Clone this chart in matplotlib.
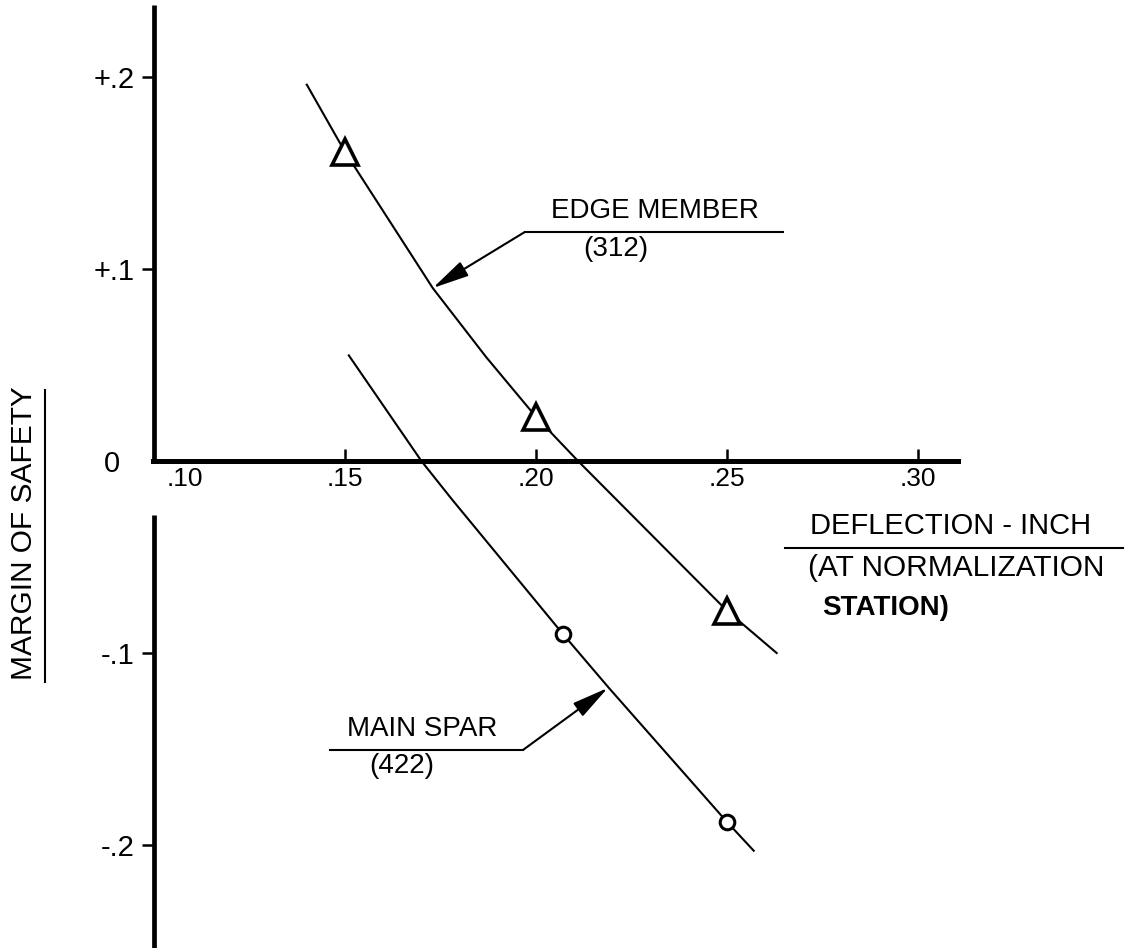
import matplotlib
matplotlib.use('Agg')
import matplotlib.pyplot as plt
from matplotlib.transforms import ScaledTranslation

# ---------------- data ----------------
x_ticks = [0.10, 0.15, 0.20, 0.25, 0.30]
x_tick_labels = ['.10', '.15', '.20', '.25', '.30']
y_ticks = [0.2, 0.1, 0.0, -0.1, -0.2]
y_tick_labels = ['+.2', '+.1', '0', '-.1', '-.2']

# measured points
edge_pts_x = [0.150, 0.200, 0.250]
edge_pts_y = [0.161, 0.023, -0.078]
spar_pts_x = [0.207, 0.250]
spar_pts_y = [-0.090, -0.188]

# faired curves
edge_curve_x = [0.140, 0.150, 0.173, 0.187, 0.200, 0.211, 0.250, 0.263]
edge_curve_y = [0.196, 0.161, 0.090, 0.054, 0.023, 0.000, -0.078, -0.100]
spar_curve_x = [0.151, 0.170, 0.178, 0.207, 0.219, 0.250, 0.257]
spar_curve_y = [0.055, 0.000, -0.020, -0.090, -0.118, -0.188, -0.203]

FONT = ['Liberation Sans', 'DejaVu Sans']
plt.rcParams['font.family'] = FONT

fig = plt.figure(figsize=(11.32, 9.48), dpi=100)
ax = fig.add_axes([0, 0, 1, 1])
ax.set_xlim(0.05969, 0.35602)
ax.set_ylim(-0.25365, 0.24010)
ax.set_facecolor('white')

for s in ['top', 'right', 'left']:
    ax.spines[s].set_visible(False)
ax.spines['bottom'].set_position(('data', 0.0))
ax.spines['bottom'].set_bounds(0.0997, 0.3105)
ax.spines['bottom'].set_linewidth(3.6)
ax.spines['left'].set_position(('data', 0.10))

# broken vertical axis
ax.plot([0.10, 0.10], [0.2375, 0.0], color='black', lw=3.4, solid_capstyle='butt', zorder=3)
ax.plot([0.10, 0.10], [-0.0281, -0.26], color='black', lw=3.4, solid_capstyle='butt', zorder=3)

# ticks
ax.set_xticks(x_ticks)
ax.set_xticklabels(x_tick_labels, fontsize=19)
ax.set_yticks(y_ticks)
ax.set_yticklabels(y_tick_labels, fontsize=21)
ax.tick_params(axis='x', direction='in', length=8.5, width=1.8, pad=4)
ax.tick_params(axis='y', direction='out', length=9, width=1.8, pad=5)

xt = ax.xaxis.get_major_ticks()
xt[0].tick1line.set_visible(False)
xt[0].label1.set_transform(xt[0].label1.get_transform() +
                           ScaledTranslation(0.31, 0, fig.dpi_scale_trans))
yt = ax.yaxis.get_major_ticks()
yt[2].tick1line.set_visible(False)
yt[2].label1.set_transform(yt[2].label1.get_transform() +
                           ScaledTranslation(-0.15, 0, fig.dpi_scale_trans))

# curves
ax.plot(edge_curve_x, edge_curve_y, color='black', lw=1.5, zorder=4,
        solid_joinstyle='round')
ax.plot(spar_curve_x, spar_curve_y, color='black', lw=1.5, zorder=4,
        solid_joinstyle='round')

# markers
ax.plot(edge_pts_x, edge_pts_y, linestyle='none', marker='^', markersize=19,
        markerfacecolor='white', markeredgecolor='black', markeredgewidth=2.6, zorder=6)
ax.plot(spar_pts_x, spar_pts_y, linestyle='none', marker='o', markersize=10.5,
        markerfacecolor='white', markeredgecolor='black', markeredgewidth=2.2, zorder=6)

arrow_kw = dict(arrowstyle='-|>,head_length=0.9,head_width=0.2', color='black',
                lw=1.5, shrinkA=0, shrinkB=0, mutation_scale=25)

# EDGE MEMBER callout
ax.plot([0.1971, 0.2647], [0.1193, 0.1193], color='black', lw=1.5)
ax.annotate('', xy=(0.1730, 0.0901), xytext=(0.1971, 0.1193), arrowprops=arrow_kw)
ax.text(0.2312, 0.1302, 'EDGE MEMBER', fontsize=20, ha='center', va='center')
ax.text(0.2209, 0.1104, '(312)', fontsize=20, ha='center', va='center')

# MAIN SPAR callout
ax.plot([0.1461, 0.1966], [-0.1505, -0.1505], color='black', lw=1.5)
ax.annotate('', xy=(0.2188, -0.1182), xytext=(0.1966, -0.1505), arrowprops=arrow_kw)
ax.text(0.1702, -0.1396, 'MAIN SPAR', fontsize=20, ha='center', va='center')
ax.text(0.1649, -0.1589, '(422)', fontsize=20, ha='center', va='center')

# x-axis title
ax.text(0.3084, -0.0339, 'DEFLECTION - INCH', fontsize=21, ha='center', va='center')
ax.plot([0.2652, 0.3537], [-0.0453, -0.0453], color='black', lw=1.5)
ax.text(0.3099, -0.0557, '(AT NORMALIZATION', fontsize=21.5, ha='center', va='center')
ax.text(0.2916, -0.0766, 'STATION)', fontsize=20, ha='center', va='center', fontweight='bold')

# y-axis title
ax.text(0.0660, -0.0375, 'MARGIN OF SAFETY', fontsize=21.5, ha='center', va='center', rotation=90)
ax.plot([0.07147, 0.07147], [0.0370, -0.1151], color='black', lw=1.5)

fig.savefig('out.png', dpi=100, facecolor='white')
